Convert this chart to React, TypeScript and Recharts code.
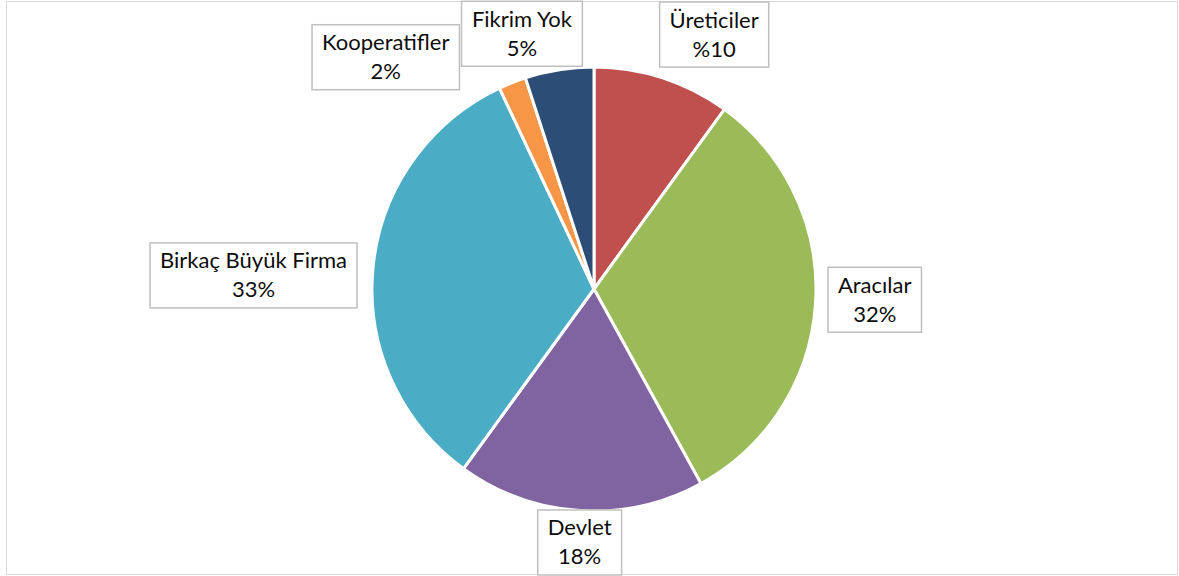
import React from 'react';
import { PieChart, Pie, Cell } from 'recharts';

const CATEGORIES = ['Üreticiler', 'Aracılar', 'Devlet', 'Birkaç Büyük Firma', 'Kooperatifler', 'Fikrim Yok'];
const VALUES = [10, 32, 18, 33, 2, 5];
const PERCENT_LABELS = ['%10', '32%', '18%', '33%', '2%', '5%'];
const COLORS = ['#C0504D', '#9BBB59', '#8064A2', '#4BACC6', '#F79646', '#2C4D75'];

// layout: label box nudges (px) relative to the computed outside position
const LABEL_NUDGE: [number, number][] = [[31, -1], [0.5, -6], [3, -12.5], [-4.5, 11.5], [-95, 16], [-26, 8]];

const data = CATEGORIES.map((name, i) => ({ name, value: VALUES[i], pct: PERCENT_LABELS[i] }));

const FONT_FAMILY = 'Lato, "Noto Sans", sans-serif';
const FONT_SIZE = 22;
const BOX_H = 65;
const PAD = 10;
const RAD = Math.PI / 180;

let ctx: CanvasRenderingContext2D | null = null;
function textWidth(t: string): number {
  if (!ctx) ctx = document.createElement('canvas').getContext('2d');
  if (!ctx) return t.length * 10;
  ctx.font = `${FONT_SIZE}px Lato`;
  return ctx.measureText(t).width;
}

const renderLabel = (props: any) => {
  const { cx, cy, midAngle, outerRadius, index } = props;
  const name = CATEGORIES[index];
  const pct = PERCENT_LABELS[index];
  const w = Math.max(textWidth(name), textWidth(pct)) + 2 * PAD;
  const h = BOX_H;
  const dx = Math.cos(midAngle * RAD);
  const dy = -Math.sin(midAngle * RAD);
  const r = outerRadius + 12;
  const ax = cx + r * dx;
  const ay = cy + r * dy;
  const [nx, ny] = LABEL_NUDGE[index];
  const ccx = ax + (dx * w) / 2 + nx;
  const ccy = ay + (dy * h) / 2 + ny;
  const left = ccx - w / 2;
  const top = ccy - h / 2;
  return (
    <g key={`lbl-${index}`}>
      <rect x={left} y={top} width={w} height={h} fill="#fff" stroke="#bfbfbf" strokeWidth={1.5} />
      <text x={ccx} y={top + 17} textAnchor="middle" dominantBaseline="central" fill="#0d0d0d" fontSize={FONT_SIZE} fontFamily={FONT_FAMILY}>
        {name}
      </text>
      <text x={ccx} y={top + 46} textAnchor="middle" dominantBaseline="central" fill="#0d0d0d" fontSize={FONT_SIZE} fontFamily={FONT_FAMILY}>
        {pct}
      </text>
    </g>
  );
};

export default function App() {
  return (
    <div style={{ position: 'absolute', left: 0, top: 0, width: 1179, height: 576, background: '#fff', overflow: 'hidden' }}>
      <div style={{ position: 'absolute', left: 6, top: 1, width: 1170, height: 572, border: '1px solid #d9d9d9' }} />
      <div style={{ position: 'absolute', left: 0, top: 0 }}>
        <PieChart width={1179} height={576} margin={{ top: 0, right: 0, bottom: 0, left: 0 }}>
          <Pie
            data={data}
            dataKey="value"
            nameKey="name"
            cx={594}
            cy={289}
            outerRadius={222}
            startAngle={90}
            endAngle={-270}
            stroke="#ffffff"
            strokeWidth={3}
            labelLine={false}
            label={renderLabel}
            isAnimationActive={false}
          >
            {data.map((d, i) => (
              <Cell key={d.name} fill={COLORS[i]} />
            ))}
          </Pie>
        </PieChart>
      </div>
    </div>
  );
}
